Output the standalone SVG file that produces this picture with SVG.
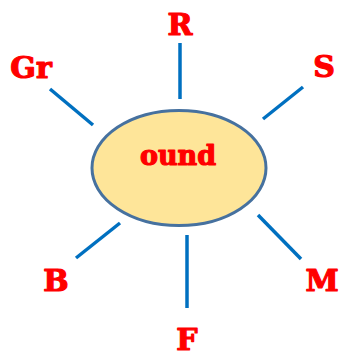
<svg xmlns="http://www.w3.org/2000/svg" width="340" height="356" viewBox="0 0 340 356">
<style>
.lbl{font-family:"DejaVu Serif","Liberation Serif",serif;font-weight:bold;fill:#ff0000;stroke:#ff0000;stroke-width:1.2;stroke-linejoin:round;text-anchor:middle}
.big{font-size:30px}
.ln{stroke:#0070c0;stroke-width:3.5;fill:none}
</style>
<rect width="340" height="356" fill="#ffffff"/>
<g id="connectors">
<line class="ln" x1="180" y1="43" x2="180" y2="99"/>
<line class="ln" x1="50" y1="89" x2="93" y2="125"/>
<line class="ln" x1="303" y1="87" x2="263" y2="119"/>
<line class="ln" x1="120" y1="223" x2="76" y2="258"/>
<line class="ln" x1="187" y1="235" x2="187" y2="308"/>
<line class="ln" x1="258" y1="215" x2="301" y2="259"/>
</g>
<g id="center">
<ellipse cx="179" cy="168" rx="87" ry="57.5" fill="#fee599" stroke="#46719f" stroke-width="3"/>
<text class="lbl" x="178" y="165" font-size="27">ound</text>
</g>
<g id="R"><text class="lbl big" x="180" y="35">R</text></g>
<g id="Gr"><text class="lbl big" x="31" y="78">Gr</text></g>
<g id="S"><text class="lbl big" x="324" y="77">S</text></g>
<g id="B"><text class="lbl big" x="56" y="291">B</text></g>
<g id="M"><text class="lbl big" x="322" y="291">M</text></g>
<g id="F"><text class="lbl big" x="187" y="350">F</text></g>
</svg>
